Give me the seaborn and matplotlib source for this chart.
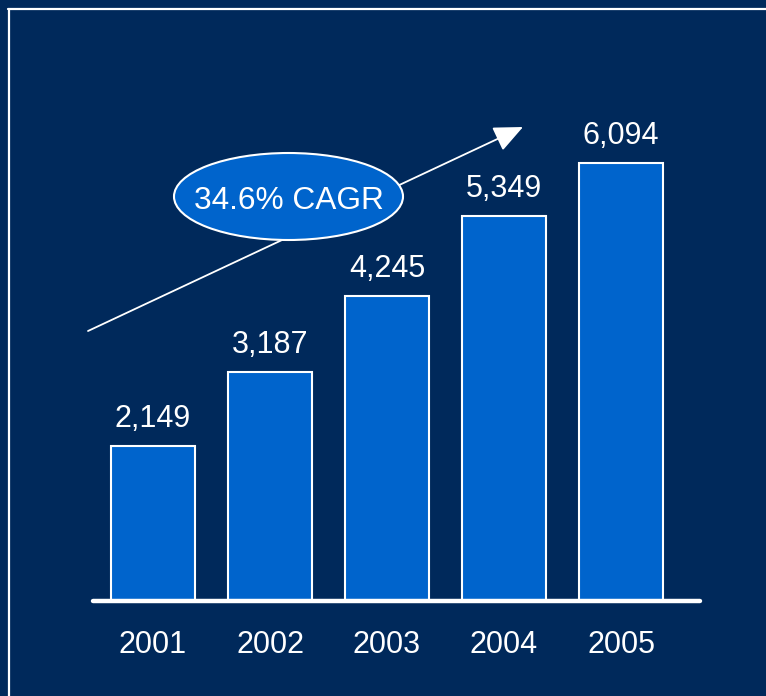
import matplotlib
matplotlib.use("Agg")
import matplotlib.pyplot as plt
import seaborn as sns
import pandas as pd
from matplotlib.patches import Ellipse
from matplotlib.lines import Line2D

years = ["2001", "2002", "2003", "2004", "2005"]
values = [2149, 3187, 4245, 5349, 6094]
value_labels = ["2,149", "3,187", "4,245", "5,349", "6,094"]
cagr_label = "34.6% CAGR"

BG = "#00295B"
BAR = "#0064CC"

sns.set_theme(style="white")
plt.rcParams['font.family'] = ['Liberation Sans', 'DejaVu Sans']

fig = plt.figure(figsize=(7.66, 6.96), dpi=100, facecolor=BG)
ax = fig.add_axes([0, 0, 1, 1])
ax.set_facecolor(BG)

df = pd.DataFrame({"year": years, "value": values})
sns.barplot(data=df, x="year", y="value", color=BAR, saturation=1,
            edgecolor="white", linewidth=1.5, width=0.72, ax=ax, zorder=3)

# pixel mapping: x_px = 153 + 117*i ; y_px = 601 - 0.0719*v
ax.set_xlim((0 - 153) / 117, (766 - 153) / 117)
ax.set_ylim((601 - 696) / 0.0719, (601 - 0) / 0.0719)
ax.set_axis_off()

# baseline
ax.axhline(0, xmin=93 / 766, xmax=700 / 766, color="white", lw=3.2,
           solid_capstyle="round", zorder=4)

PT = 100 / 72  # pixels per point

# value labels
for i, (v, lab) in enumerate(zip(values, value_labels)):
    ax.annotate(lab, (i, v), xytext=(0, 19 / PT), textcoords="offset points",
                ha="center", va="baseline", color="white", fontsize=22)

# year labels
for i, y in enumerate(years):
    ax.annotate(y, (i, 0), xytext=(0, -52 / PT), textcoords="offset points",
                ha="center", va="baseline", color="white", fontsize=22)

# arrow
ax.annotate("", xy=(523 / 766, 1 - 127 / 696), xytext=(88 / 766, 1 - 331 / 696),
            xycoords="axes fraction", textcoords="axes fraction",
            arrowprops=dict(arrowstyle="-|>,head_length=1.8,head_width=0.8",
                            mutation_scale=10, color="white", lw=1.3,
                            shrinkA=0, shrinkB=0), zorder=5)

# CAGR ellipse
ell = Ellipse((288.5 / 766, 1 - 196.5 / 696), 229 / 766, 87 / 696,
              transform=ax.transAxes, facecolor=BAR, edgecolor="white",
              lw=1.5, zorder=6)
ax.add_patch(ell)
ax.text(289 / 766, 1 - 209 / 696, cagr_label, transform=ax.transAxes,
        ha="center", va="baseline", color="white", fontsize=22.8, zorder=7)

# frame lines (top and left)
fig.add_artist(Line2D([8 / 766, 1], [1 - 8.5 / 696, 1 - 8.5 / 696],
                      transform=fig.transFigure, color="white", lw=1.6))
fig.add_artist(Line2D([8.5 / 766, 8.5 / 766], [0, 1 - 8.5 / 696],
                      transform=fig.transFigure, color="white", lw=1.6))

fig.savefig("out.png", dpi=100, facecolor=BG)
